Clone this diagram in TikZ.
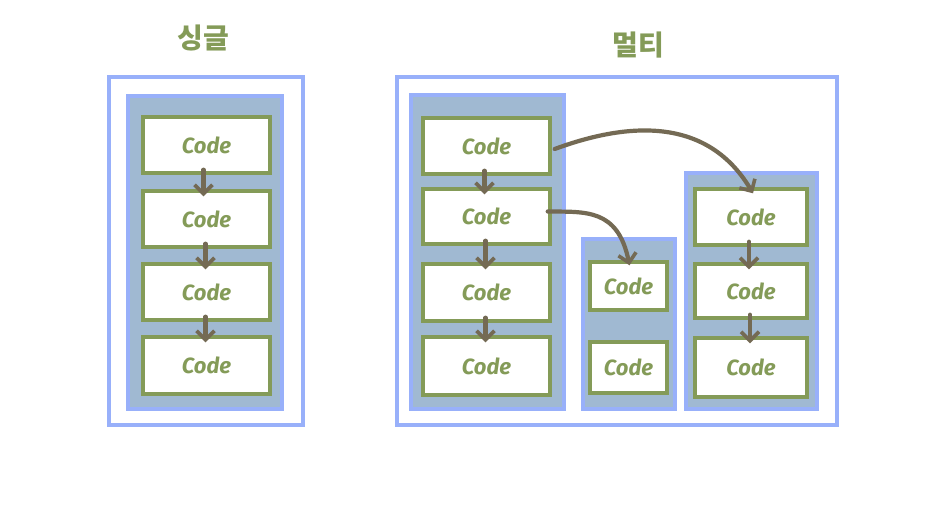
\documentclass[tikz,border=0pt]{standalone}
\usepackage{fontspec}
\setmainfont{Fira Sans}
\newfontfamily\kor{Noto Sans CJK KR}
\usetikzlibrary{arrows.meta}
\definecolor{outerblue}{RGB}{152,176,250}
\definecolor{innerfill}{RGB}{160,185,210}
\definecolor{codegreen}{RGB}{132,155,88}
\definecolor{arrowbrown}{RGB}{116,106,84}
\tikzset{
  px/.style={x=1pt,y=-1pt},
  outerbox/.style={draw=outerblue,line width=3.2pt,fill=white},
  innerbox/.style={draw=outerblue,line width=3.2pt,fill=innerfill},
  codebox/.style={draw=codegreen,line width=3.4pt,fill=white,font=\itshape\fontsize{22}{24}\selectfont\bfseries,text=codegreen},
  flow/.style={draw=arrowbrown,line width=4.2pt,line cap=round,-{Straight Barb[length=9pt,width=18pt,line width=3.6pt]}},
  title/.style={font=\kor\fontsize{28}{30}\selectfont\bfseries,text=codegreen}
}
\newcommand{\cbox}[5]{\node[codebox,minimum width=#4pt-#2pt,minimum height=#5pt-#3pt] (#1) at ({(#2+#4)/2},{(#3+#5)/2}) {Code};}
\newcommand{\vflow}[3]{\draw[flow] ([xshift=#3pt,yshift=5pt]#1.south) -- ([xshift=#3pt,yshift=-7pt]#2.north);}
\begin{document}
\begin{tikzpicture}[px]
\useasboundingbox (0,0) rectangle (942,514);
% titles
\node[title] (t1) at (203,38) {싱글};
\node[title] (t2) at (638,45) {멀티};
% single
\draw[outerbox] (109,77) rectangle (303,425);
\draw[innerbox] (128,96) rectangle (282,409);
\cbox{s1}{143}{117}{270}{173}
\cbox{s2}{143}{191}{270}{247}
\cbox{s3}{143}{264}{270}{320}
\cbox{s4}{143}{337}{270}{394}
% multi
\draw[outerbox] (397,77) rectangle (837,425);
\draw[innerbox] (411,95) rectangle (564,409);
\draw[innerbox] (583,239) rectangle (675,409);
\draw[innerbox] (686,173) rectangle (817,409);
\cbox{a1}{423}{118}{550}{174}
\cbox{a2}{423}{189}{550}{244}
\cbox{a3}{423}{264}{550}{321}
\cbox{a4}{423}{337}{550}{395}
\cbox{b1}{590}{262}{667}{310}
\cbox{b2}{590}{342}{667}{393}
\cbox{c1}{695}{189}{807}{245}
\cbox{c2}{695}{264}{807}{318}
\cbox{c3}{695}{338}{807}{397}
% arrows
\vflow{s1}{s2}{-3}
\vflow{s2}{s3}{-1}
\vflow{s3}{s4}{-1}
\vflow{a1}{a2}{-2}
\vflow{a2}{a3}{-1}
\vflow{a3}{a4}{-1}
\vflow{c1}{c2}{-2}
\vflow{c2}{c3}{-1}
\draw[flow] ([xshift=3pt,yshift=-3pt]a1.east) .. controls (620,125) and (705,112) .. ([xshift=2pt,yshift=-6pt]c1.north);
\draw[flow] ([xshift=-4pt,yshift=5pt]a2.east) .. controls (585,212) and (618,208) .. ([xshift=1pt,yshift=-5pt]b1.north);
\end{tikzpicture}
\end{document}
